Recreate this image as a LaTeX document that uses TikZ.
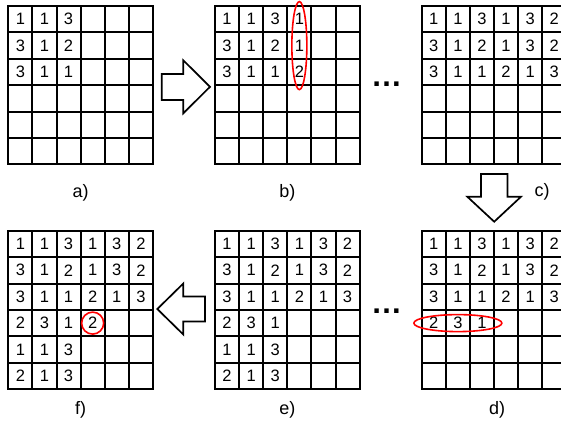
\documentclass[tikz,border=0pt]{standalone}
\usepackage{fontspec}
\setmainfont{Liberation Sans}
\usetikzlibrary{positioning,calc}
\tikzset{
  gridline/.style={line width=2pt, line cap=rect},
  digit/.style={inner sep=0pt, font=\fontsize{16.5}{16.5}\selectfont},
  caption/.style={inner sep=0pt, font=\fontsize{18}{18}\selectfont},
  blockarrow/.style={line width=1.7pt, line join=miter, fill=white},
  redring/.style={draw=red, line width=1.6pt},
  dots/.style={inner sep=0pt, font=\fontsize{31}{31}\selectfont\bfseries}
}
% name, left, top, rows of numbers
\newcommand\numtable[4]{
  \begin{scope}[shift={(#2,#3)}]
    \foreach \i in {0,...,6} {
      \draw[gridline] (\i*24.1,0) -- (\i*24.1,158.4);
      \draw[gridline] (0,\i*26.4) -- (144.6,\i*26.4);
    }
    \foreach \cells [count=\r] in {#4}
      \foreach \val [count=\c] in \cells
        \node[digit] (#1-\r-\c) at (\c*24.1-12.05,\r*26.4-13.2) {\val};
    \coordinate (#1) at (72.3,158.4);
  \end{scope}}
\begin{document}
\begin{tikzpicture}[x=1pt,y=-1pt]
\useasboundingbox (0,0) rectangle (561,424);
\clip (0,0) rectangle (561,424);

\numtable{a}{8.3}{6}{{1,1,3},{3,1,2},{3,1,1}}
\numtable{b}{215}{6}{{1,1,3,1},{3,1,2,1},{3,1,1,2}}
\numtable{c}{421.7}{6}{{1,1,3,1,3,2},{3,1,2,1,3,2},{3,1,1,2,1,3}}
\numtable{f}{8.3}{230.7}{{1,1,3,1,3,2},{3,1,2,1,3,2},{3,1,1,2,1,3},{2,3,1,2},{1,1,3},{2,1,3}}
\numtable{e}{215}{230.7}{{1,1,3,1,3,2},{3,1,2,1,3,2},{3,1,1,2,1,3},{2,3,1},{1,1,3},{2,1,3}}
\numtable{d}{421.7}{230.7}{{1,1,3,1,3,2},{3,1,2,1,3,2},{3,1,1,2,1,3},{2,3,1}}

\node[caption, below=20pt of a] (laba) {a)};
\node[caption, below=20pt of b] (labb) {b)};
\node[caption] (labc) at (542,192) {c)};
\node[caption, below=12pt of d, xshift=3pt] (labd) {d)};
\node[caption, below=12pt of e] (labe) {e)};
\node[caption, below=12pt of f] (labf) {f)};

\node[dots] (gapup) at (386.7,84.3) {…};
\node[dots] (gapdown) at (386.7,311.5) {…};

% block arrows
\draw[blockarrow] (161.7,74) -- (183.3,74) -- (183.3,60.3) -- (210,86.8)
  -- (183.3,113.3) -- (183.3,100) -- (161.7,100) -- cycle;
\draw[blockarrow] (481,174) -- (507.5,174) -- (507.5,196.7) -- (521,196.7)
  -- (494.2,221.7) -- (467.3,196.7) -- (481,196.7) -- cycle;
\draw[blockarrow] (205,296.5) -- (183.3,296.5) -- (183.3,283.5) -- (157.3,309)
  -- (183.3,334.5) -- (183.3,321.5) -- (205,321.5) -- cycle;

\draw[redring] ($(b-1-4)!0.5!(b-3-4)$) ellipse [x radius=7.5, y radius=44];
\draw[redring] ($(d-4-1)!0.5!(d-4-3)$) ellipse [x radius=44, y radius=8.5];
\draw[redring] (f-4-4) circle [radius=11];
\end{tikzpicture}
\end{document}
